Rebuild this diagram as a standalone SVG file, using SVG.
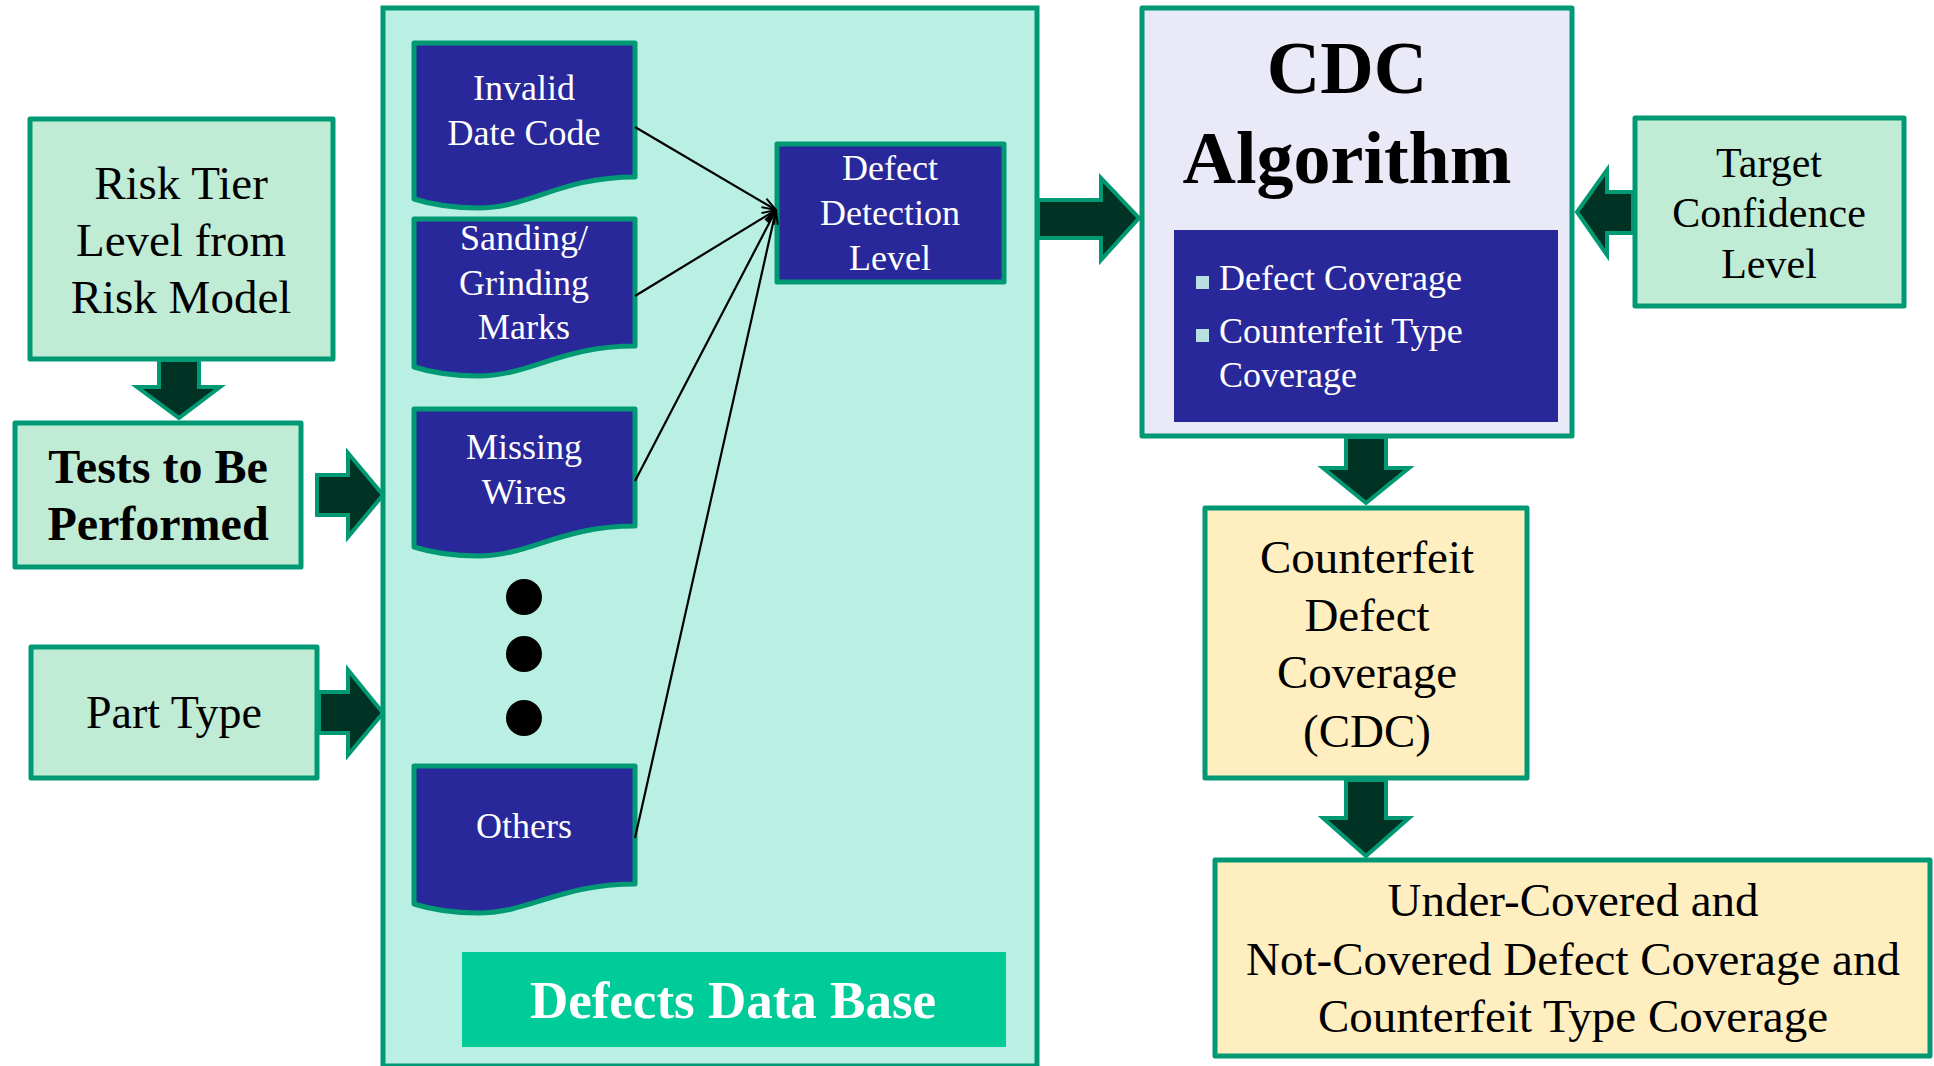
<svg xmlns="http://www.w3.org/2000/svg" width="1934" height="1066" viewBox="0 0 1934 1066">
<style>
.box{stroke:#009973;stroke-width:5;stroke-linejoin:round}
.green{fill:#c0ecd5}
.yellow{fill:#ffefc0}
.doc{fill:#29289a;stroke:#009973;stroke-width:5;stroke-linejoin:round}
.arrow{fill:#003324;stroke:#009973;stroke-width:4;stroke-linejoin:miter}
.t{font-family:"Liberation Serif","Times New Roman",serif;text-anchor:middle;fill:#000}
.w{fill:#ffffff}
.conn{stroke:#000;stroke-width:2.2;fill:none}
</style>
<defs>
<marker id="open" viewBox="0 0 16 12" refX="15" refY="6" markerWidth="16" markerHeight="12" markerUnits="userSpaceOnUse" orient="auto">
<path d="M1,1 L15,6 L1,11" fill="none" stroke="#000" stroke-width="2"/>
</marker>
</defs>
<rect width="1934" height="1066" fill="#ffffff"/>

<g id="risk-tier">
<rect class="box green" x="30" y="119" width="303" height="240"/>
<text class="t" font-size="47" x="181" y="199">Risk Tier</text>
<text class="t" font-size="47" x="181" y="256">Level from</text>
<text class="t" font-size="47" x="181" y="313">Risk Model</text>
</g>

<g id="tests">
<rect class="box green" x="15" y="423" width="286" height="144"/>
<text class="t" font-size="48" font-weight="bold" x="158" y="483">Tests to Be</text>
<text class="t" font-size="48" font-weight="bold" x="158" y="540">Performed</text>
</g>

<g id="part-type">
<rect class="box green" x="31" y="647" width="286" height="131"/>
<text class="t" font-size="46" x="174" y="728">Part Type</text>
</g>

<g id="defects-db">
<rect x="383" y="8" width="654" height="1058" fill="#baf0e3" stroke="#009973" stroke-width="5"/>
<rect x="462" y="952" width="544" height="95" fill="#00cc9a"/>
<text class="t w" font-size="53" font-weight="bold" x="733" y="1018">Defects Data Base</text>
</g>

<g id="invalid-date-code">
<path class="doc" d="M414,43 H635 V177 C560,177 530,208 478,208 C450,208 430,204 414,199 Z"/>
<text class="t w" font-size="36" x="524" y="100">Invalid</text>
<text class="t w" font-size="36" x="524" y="145">Date Code</text>
</g>

<g id="sanding">
<path class="doc" d="M414,219 H635 V346 C560,346 530,376 478,376 C450,376 430,372 414,367 Z"/>
<text class="t w" font-size="36" x="524" y="250">Sanding/</text>
<text class="t w" font-size="36" x="524" y="295">Grinding</text>
<text class="t w" font-size="36" x="524" y="339">Marks</text>
</g>

<g id="missing-wires">
<path class="doc" d="M414,409 H635 V526 C560,526 530,556 478,556 C450,556 430,552 414,547 Z"/>
<text class="t w" font-size="36" x="524" y="459">Missing</text>
<text class="t w" font-size="36" x="524" y="504">Wires</text>
</g>

<g id="ellipsis">
<circle cx="524" cy="597" r="18" fill="#000"/>
<circle cx="524" cy="654" r="18" fill="#000"/>
<circle cx="524" cy="718" r="18" fill="#000"/>
</g>

<g id="others">
<path class="doc" d="M414,766 H635 V884 C560,884 530,913 478,913 C450,913 430,909 414,904 Z"/>
<text class="t w" font-size="36" x="524" y="838">Others</text>
</g>

<g id="defect-detection-level">
<rect class="doc" x="777" y="144" width="227" height="138"/>
<text class="t w" font-size="36" x="890" y="180">Defect</text>
<text class="t w" font-size="36" x="890" y="225">Detection</text>
<text class="t w" font-size="36" x="890" y="270">Level</text>
</g>

<g id="cdc-algorithm">
<rect class="box" fill="#e9e9f7" x="1142" y="8" width="430" height="428"/>
<text class="t" font-size="74" font-weight="bold" x="1347" y="93">CDC</text>
<text class="t" font-size="74" font-weight="bold" x="1347" y="183">Algorithm</text>
<rect x="1174" y="230" width="384" height="192" fill="#29289a"/>
<rect x="1196" y="276" width="13" height="13" fill="#b8e0e0"/>
<rect x="1196" y="329" width="13" height="13" fill="#b8e0e0"/>
<text font-family="'Liberation Serif','Times New Roman',serif" font-size="36" fill="#fff" x="1219" y="290">Defect Coverage</text>
<text font-family="'Liberation Serif','Times New Roman',serif" font-size="36" fill="#fff" x="1219" y="343">Counterfeit Type</text>
<text font-family="'Liberation Serif','Times New Roman',serif" font-size="36" fill="#fff" x="1219" y="387">Coverage</text>
</g>

<g id="target-confidence">
<rect class="box green" x="1635" y="118" width="269" height="188"/>
<text class="t" font-size="42" x="1769" y="177">Target</text>
<text class="t" font-size="42" x="1769" y="227">Confidence</text>
<text class="t" font-size="42" x="1769" y="278">Level</text>
</g>

<g id="cdc-result">
<rect class="box yellow" x="1205" y="508" width="322" height="270"/>
<text class="t" font-size="47" x="1367" y="573">Counterfeit</text>
<text class="t" font-size="47" x="1367" y="631">Defect</text>
<text class="t" font-size="47" x="1367" y="688">Coverage</text>
<text class="t" font-size="47" x="1367" y="747">(CDC)</text>
</g>

<g id="under-covered">
<rect class="box yellow" x="1215" y="860" width="715" height="196"/>
<text class="t" font-size="47" x="1573" y="916">Under-Covered and</text>
<text class="t" font-size="47" x="1573" y="975">Not-Covered Defect Coverage and</text>
<text class="t" font-size="47" x="1573" y="1032">Counterfeit Type Coverage</text>
</g>

<g id="connectors">
<line class="conn" x1="635" y1="127" x2="776" y2="210" marker-end="url(#open)"/>
<line class="conn" x1="635" y1="296" x2="776" y2="210" marker-end="url(#open)"/>
<line class="conn" x1="635" y1="481" x2="776" y2="210" marker-end="url(#open)"/>
<line class="conn" x1="635" y1="838" x2="776" y2="210" marker-end="url(#open)"/>
<polygon class="arrow" points="159,360 199,360 199,387 220,387 179,418 137,387 159,387"/>
<polygon class="arrow" points="317,475 348,475 348,453 383,495 348,537 348,515 317,515"/>
<polygon class="arrow" points="319,692 348,692 348,670 383,713 348,755 348,733 319,733"/>
<polygon class="arrow" points="1038,200 1101,200 1101,178 1139,218 1101,260 1101,238 1038,238"/>
<polygon class="arrow" points="1633,192 1607,192 1607,170 1577,212 1607,255 1607,233 1633,233"/>
<polygon class="arrow" points="1346,437 1386,437 1386,468 1409,468 1366,503 1323,468 1346,468"/>
<polygon class="arrow" points="1346,780 1386,780 1386,818 1409,818 1366,856 1323,818 1346,818"/>
</g>
</svg>
